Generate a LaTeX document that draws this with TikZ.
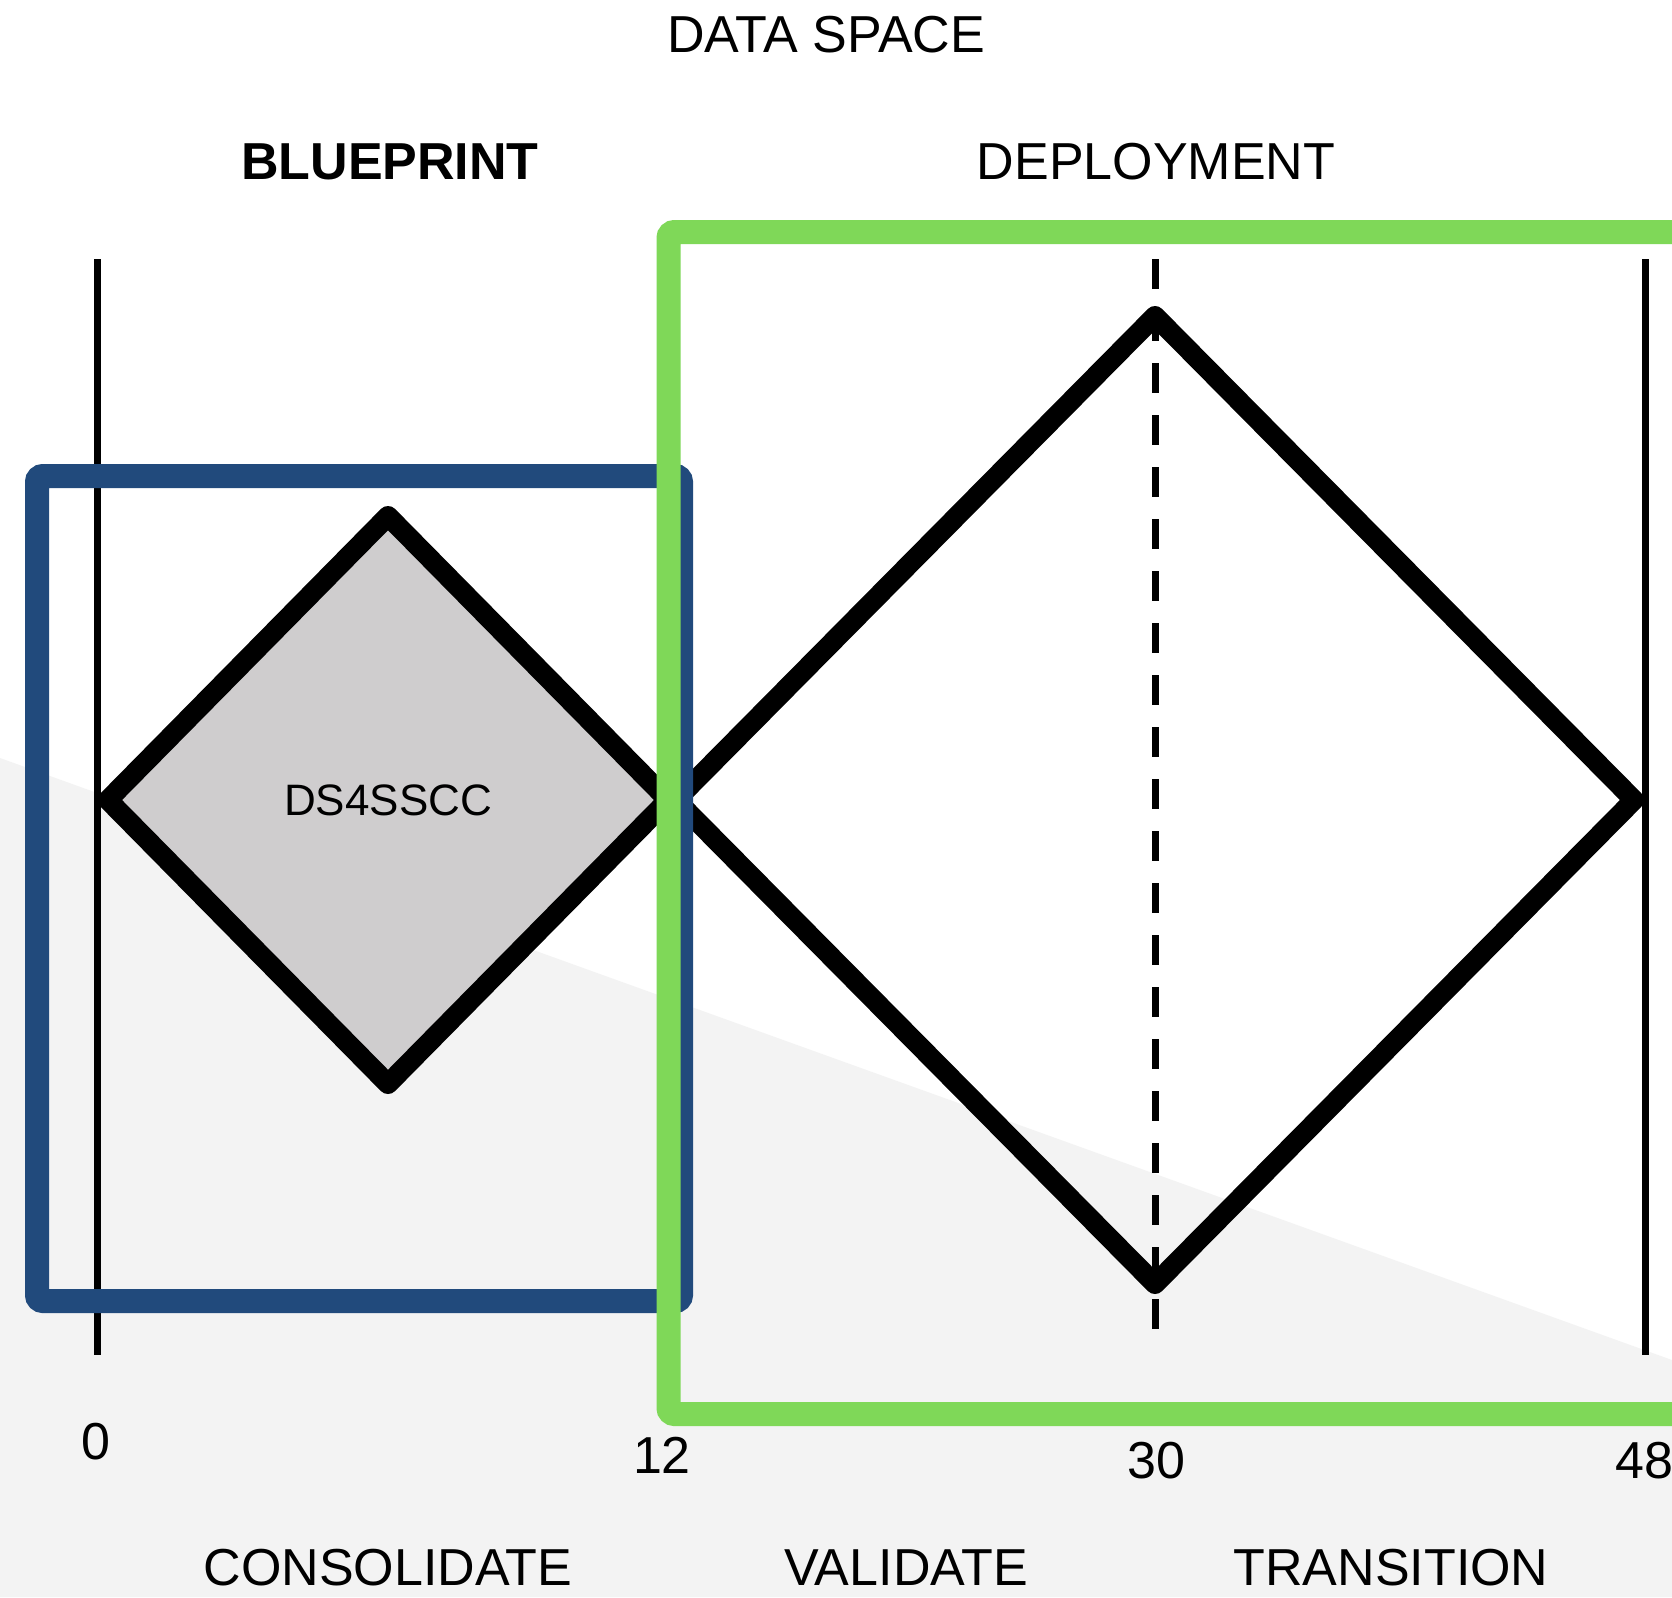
\documentclass[tikz,border=0pt]{standalone}
\usepackage{fontspec}
\setmainfont{Liberation Sans}
\definecolor{bpblue}{HTML}{214A7C}
\definecolor{dpgreen}{HTML}{7FD858}
\definecolor{dsgray}{HTML}{CFCDCE}
\definecolor{bggray}{HTML}{F3F3F3}
\begin{document}
\begin{tikzpicture}[x=0.5pt,y=-0.5pt,
  lbl/.style={inner sep=0pt, anchor=center, font=\fontsize{26}{30}\selectfont},
  boldlbl/.style={lbl, font=\fontsize{26}{30}\selectfont\bfseries},
  smalllbl/.style={inner sep=0pt, anchor=center, font=\fontsize{22}{26}\selectfont},
  axisline/.style={line width=3.5pt, black},
  midline/.style={line width=3.5pt, black, dash pattern=on 15pt off 11pt},
  phase/.style={line width=10pt, black, line join=round},
  bluebox/.style={line width=12pt, draw=bpblue, rounded corners=3pt},
  greenbox/.style={line width=12pt, draw=dpgreen, rounded corners=3pt}]
\useasboundingbox (0,0) rectangle (1672,1597);
\clip (0,0) rectangle (1672,1597);
\fill[white] (0,0) rectangle (1672,1597);
\fill[bggray] (0,758) -- (1672,1360) -- (1672,1597) -- (0,1597) -- cycle;

% axis lines
\coordinate (a0t) at (97,259);   \coordinate (a0b) at (97,1355);
\coordinate (a48t) at (1645,259); \coordinate (a48b) at (1645,1355);
\coordinate (a30t) at (1155,259); \coordinate (a30b) at (1155,1335);
\draw[axisline] (a0t) -- (a0b);
\draw[axisline] (a48t) -- (a48b);

% small diamond
\coordinate (sl) at (108,800); \coordinate (st) at (388,516);
\coordinate (sr) at (668,800); \coordinate (sb) at (388,1084);
\filldraw[phase, fill=dsgray] (sl) -- (st) -- (sr) -- (sb) -- cycle;
\node[smalllbl] (ds) at (388,800) {DS4SSCC};

% large diamond
\coordinate (bl) at (676,800); \coordinate (bt) at (1155,316);
\coordinate (br) at (1634,800); \coordinate (bb) at (1155,1284);
\draw[phase] (bl) -- (bt) -- (br) -- (bb) -- cycle;

\draw[midline] (a30t) -- (a30b);

% boxes
\draw[bluebox] (37,476) rectangle (681,1301);
\draw[greenbox] (668.5,232) rectangle (1700,1414);

% titles
\node[lbl] (dataspace) at (826,35) {DATA SPACE};
\node[boldlbl] (blueprint) at (390,162) {BLUEPRINT};
\node[lbl] (deployment) at (1156,162) {DEPLOYMENT};

% numbers
\node[lbl] (n0) at (96,1442) {0};
\node[lbl] (n12) at (662,1455) {12};
\node[lbl] (n30) at (1156,1461) {30};
\node[lbl] (n48) at (1644,1461) {48};

% phases
\node[lbl] (cons) at (388,1568) {CONSOLIDATE};
\node[lbl] (vali) at (906,1568) {VALIDATE};
\node[lbl] (tran) at (1391,1568) {TRANSITION};
\end{tikzpicture}
\end{document}
